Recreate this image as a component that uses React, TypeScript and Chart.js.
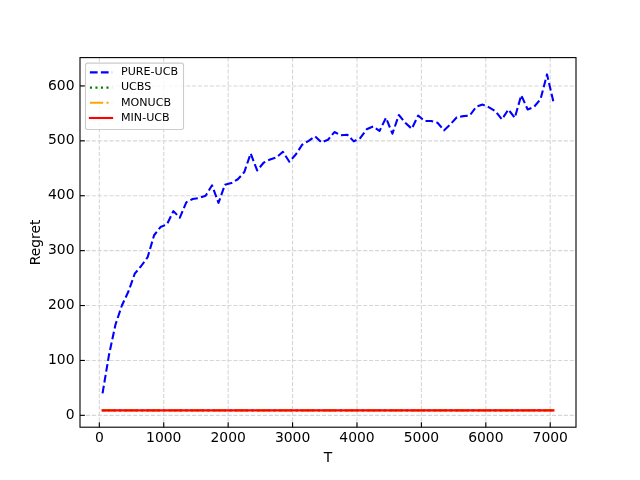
import React, { useEffect, useRef } from "react";
import { Chart, registerables } from "chart.js";

Chart.register(...registerables);

const T = [
  50, 150, 250, 350, 450, 550, 650, 750, 850, 950,
  1050, 1150, 1250, 1350, 1450, 1550, 1650, 1750, 1850, 1950,
  2050, 2150, 2250, 2350, 2450, 2550, 2650, 2750, 2850, 2950,
  3050, 3150, 3250, 3350, 3450, 3550, 3650, 3750, 3850, 3950,
  4050, 4150, 4250, 4350, 4450, 4550, 4650, 4750, 4850, 4950,
  5050, 5150, 5250, 5350, 5450, 5550, 5650, 5750, 5850, 5950,
  6050, 6150, 6250, 6350, 6450, 6550, 6650, 6750, 6850, 6950,
  7050,
];

const pureUcb = [
  40, 110, 165, 200, 225, 258, 272, 288, 328, 343,
  348, 372, 360, 388, 394, 396, 400, 419, 387, 420,
  423, 430, 443, 477, 446, 460, 466, 470, 480, 462,
  475, 493, 500, 508, 497, 502, 516, 510, 511, 499,
  505, 521, 526, 518, 542, 513, 547, 533, 522, 546,
  536, 536, 533, 519, 530, 543, 545, 546, 562, 566,
  561, 554, 539, 557, 542, 583, 557, 562, 576, 621,
  571,
];

const ucbs = [
  9, 9, 9, 9, 9, 9, 9, 9, 9, 9,
  9, 9, 9, 9, 9, 9, 9, 9, 9, 9,
  9, 9, 9, 9, 9, 9, 9, 9, 9, 9,
  9, 9, 9, 9, 9, 9, 9, 9, 9, 9,
  9, 9, 9, 9, 9, 9, 9, 9, 9, 9,
  9, 9, 9, 9, 9, 9, 9, 9, 9, 9,
  9, 9, 9, 9, 9, 9, 9, 9, 9, 9,
  9,
];

const monucb = [
  9, 9, 9, 9, 9, 9, 9, 9, 9, 9,
  9, 9, 9, 9, 9, 9, 9, 9, 9, 9,
  9, 9, 9, 9, 9, 9, 9, 9, 9, 9,
  9, 9, 9, 9, 9, 9, 9, 9, 9, 9,
  9, 9, 9, 9, 9, 9, 9, 9, 9, 9,
  9, 9, 9, 9, 9, 9, 9, 9, 9, 9,
  9, 9, 9, 9, 9, 9, 9, 9, 9, 9,
  9,
];

const minUcb = [
  9, 9, 9, 9, 9, 9, 9, 9, 9, 9,
  9, 9, 9, 9, 9, 9, 9, 9, 9, 9,
  9, 9, 9, 9, 9, 9, 9, 9, 9, 9,
  9, 9, 9, 9, 9, 9, 9, 9, 9, 9,
  9, 9, 9, 9, 9, 9, 9, 9, 9, 9,
  9, 9, 9, 9, 9, 9, 9, 9, 9, 9,
  9, 9, 9, 9, 9, 9, 9, 9, 9, 9,
  9,
];

const xTicks = [0, 1000, 2000, 3000, 4000, 5000, 6000, 7000];
const yTicks = [0, 100, 200, 300, 400, 500, 600];

const FONT = "'DejaVu Sans', sans-serif";

const seriesDefs = [
  { label: "PURE-UCB", values: pureUcb, color: "#0000ff", dash: [7.7, 3.3], cap: "butt" },
  { label: "UCBS", values: ucbs, color: "#008000", dash: [2.08, 3.44], cap: "butt" },
  { label: "MONUCB", values: monucb, color: "#ffa500", dash: [13.3, 3.3, 2.1, 3.3], cap: "butt" },
  { label: "MIN-UCB", values: minUcb, color: "#ff0000", dash: [] as number[], cap: "square" },
];

const framePlugin = {
  id: "mplFrame",
  beforeDatasetsDraw(chart: any) {
    const { ctx, chartArea: a, scales } = chart;
    const x = scales.x;
    const y = scales.y;
    ctx.save();
    ctx.strokeStyle = "#d6d6d6";
    ctx.lineWidth = 1.1;
    ctx.setLineDash([4.1, 1.8]);
    for (const v of xTicks) {
      const px = x.getPixelForValue(v);
      ctx.beginPath();
      ctx.moveTo(px, a.top);
      ctx.lineTo(px, a.bottom);
      ctx.stroke();
    }
    for (const v of yTicks) {
      const py = y.getPixelForValue(v);
      ctx.beginPath();
      ctx.moveTo(a.left, py);
      ctx.lineTo(a.right, py);
      ctx.stroke();
    }
    ctx.restore();
  },
  afterDraw(chart: any) {
    const { ctx, chartArea: a, scales } = chart;
    const x = scales.x;
    const y = scales.y;
    ctx.save();
    ctx.setLineDash([]);
    ctx.strokeStyle = "#000";
    ctx.lineWidth = 1.1;
    ctx.strokeRect(a.left, a.top, a.right - a.left, a.bottom - a.top);
    // inward ticks
    for (const v of xTicks) {
      const px = x.getPixelForValue(v);
      ctx.beginPath();
      ctx.moveTo(px, a.bottom);
      ctx.lineTo(px, a.bottom - 4.9);
      ctx.stroke();
    }
    for (const v of yTicks) {
      const py = y.getPixelForValue(v);
      ctx.beginPath();
      ctx.moveTo(a.left, py);
      ctx.lineTo(a.left + 4.9, py);
      ctx.stroke();
    }
    // legend
    const fs = 11.1;
    ctx.font = `${fs}px ${FONT}`;
    const boxL = a.left + 5.5;
    const boxT = a.top + 5.5;
    const handleL = boxL + 4.4;
    const handleR = handleL + 22.2;
    const textX = handleR + 8.9;
    let maxW = 0;
    for (const s of seriesDefs) maxW = Math.max(maxW, ctx.measureText(s.label).width);
    const boxW = textX - boxL + maxW + 5.5;
    const rowH = 15.2;
    const boxH = 9.3 * 2 + rowH * (seriesDefs.length - 1) + 2.2;
    const r = 2.2;
    ctx.beginPath();
    ctx.moveTo(boxL + r, boxT);
    ctx.lineTo(boxL + boxW - r, boxT);
    ctx.arcTo(boxL + boxW, boxT, boxL + boxW, boxT + r, r);
    ctx.lineTo(boxL + boxW, boxT + boxH - r);
    ctx.arcTo(boxL + boxW, boxT + boxH, boxL + boxW - r, boxT + boxH, r);
    ctx.lineTo(boxL + r, boxT + boxH);
    ctx.arcTo(boxL, boxT + boxH, boxL, boxT + boxH - r, r);
    ctx.lineTo(boxL, boxT + r);
    ctx.arcTo(boxL, boxT, boxL + r, boxT, r);
    ctx.closePath();
    ctx.fillStyle = "rgba(255,255,255,0.8)";
    ctx.fill();
    ctx.strokeStyle = "#cccccc";
    ctx.lineWidth = 1.1;
    ctx.stroke();
    seriesDefs.forEach((s, i) => {
      const cy = boxT + 9.3 + i * rowH;
      ctx.save();
      ctx.strokeStyle = s.color;
      ctx.lineWidth = 2.08;
      ctx.lineCap = s.cap as CanvasLineCap;
      ctx.setLineDash(s.dash);
      ctx.beginPath();
      ctx.moveTo(handleL, cy);
      ctx.lineTo(handleR, cy);
      ctx.stroke();
      ctx.restore();
      ctx.fillStyle = "#000";
      ctx.textBaseline = "middle";
      ctx.textAlign = "left";
      ctx.fillText(s.label, textX, cy);
    });
    ctx.restore();
  },
};

export default function App() {
  const ref = useRef<HTMLCanvasElement | null>(null);
  useEffect(() => {
    if (!ref.current) return;
    const n = seriesDefs.length;
    const chart = new Chart(ref.current, {
      type: "line",
      data: {
        datasets: seriesDefs.map((s, i) => ({
          label: s.label,
          data: T.map((t, k) => ({ x: t, y: s.values[k] })),
          borderColor: s.color,
          backgroundColor: s.color,
          borderWidth: 2.08,
          borderDash: s.dash,
          borderCapStyle: s.cap as CanvasLineCap,
          borderJoinStyle: "round" as CanvasLineJoin,
          pointRadius: 0,
          tension: 0,
          fill: false,
          order: n - 1 - i,
        })),
      },
      options: {
        animation: false,
        responsive: false,
        maintainAspectRatio: false,
        events: [],
        layout: { padding: { top: 57.6, right: 64, left: 0, bottom: 0 } },
        plugins: {
          legend: { display: false },
          tooltip: { enabled: false },
        },
        scales: {
          x: {
            type: "linear",
            min: -300,
            max: 7400,
            afterBuildTicks: (scale: any) => {
              scale.ticks = xTicks.map((v) => ({ value: v }));
            },
            afterFit: (scale: any) => {
              scale.height = 52.8;
            },
            grid: { display: false, drawTicks: false },
            border: { display: false },
            ticks: {
              color: "#000",
              font: { family: FONT, size: 13.9 },
              padding: 3,
              maxRotation: 0,
              autoSkip: false,
              callback: (v: any) => String(v),
            },
            title: {
              display: true,
              text: "T",
              color: "#000",
              font: { family: FONT, size: 13.9 },
              padding: { top: 0, bottom: 13.4 },
            },
          },
          y: {
            type: "linear",
            min: -21.6,
            max: 651.6,
            afterBuildTicks: (scale: any) => {
              scale.ticks = yTicks.map((v) => ({ value: v }));
            },
            afterFit: (scale: any) => {
              scale.width = 80;
            },
            grid: { display: false, drawTicks: false },
            border: { display: false },
            ticks: {
              color: "#000",
              font: { family: FONT, size: 13.9 },
              padding: 5.5,
              autoSkip: false,
              callback: (v: any) => String(v),
            },
            title: {
              display: true,
              text: "Regret",
              color: "#000",
              font: { family: FONT, size: 13.9 },
              padding: { top: 28.4, bottom: 0 },
            },
          },
        },
      },
      plugins: [framePlugin],
    });
    return () => chart.destroy();
  }, []);
  return (
    <div style={{ position: "absolute", left: 0, top: 0, width: 640, height: 480, background: "#fff" }}>
      <canvas ref={ref} width={640} height={480} style={{ display: "block", width: 640, height: 480 }} />
    </div>
  );
}
